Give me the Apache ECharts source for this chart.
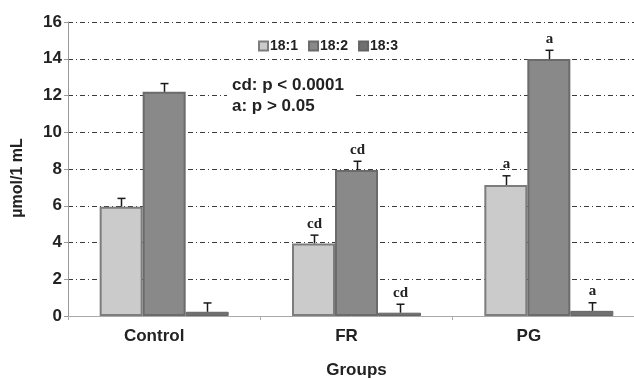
<!DOCTYPE html>
<html>
<head>
<meta charset="utf-8">
<script src="https://cdn.jsdelivr.net/npm/echarts@6/dist/echarts.min.js"></script>
<style>html,body{margin:0;padding:0;background:#fff}#c{width:634px;height:378px}</style>
</head>
<body>
<div id="c"></div>
<script>
var categories = ['Control', 'FR', 'PG'];
var seriesNames = ['18:1', '18:2', '18:3'];
var values181 = [5.95, 3.95, 7.13];
var values182 = [12.2, 7.95, 13.98];
var values183 = [0.23, 0.18, 0.28];
var err181 = [0.45, 0.45, 0.5];
var err182 = [0.45, 0.47, 0.48];
var err183 = [0.48, 0.46, 0.44];
var sigLabels181 = ['', 'cd', 'a'];
var sigLabels182 = ['', 'cd', 'a'];
var sigLabels183 = ['', 'cd', 'a'];
var yTicks = [0, 2, 4, 6, 8, 10, 12, 14, 16];
var noteLines = ['cd: p < 0.0001', 'a: p > 0.05'];

var labelShift = [20, 20, 40];
var vals = [values181, values182, values183];
var errs = [err181, err182, err183];
var sigs = [sigLabels181, sigLabels182, sigLabels183];
var fills = ['#cbcbcb', '#898989', '#707070'];
var borders = ['#7d7d7d', '#6b6b6b', '#656565'];
var BW = 43;
var font = '"Liberation Sans", Arial, sans-serif';

var catData = categories.map(function (name, i) {
  return { value: name, textStyle: { padding: [0, labelShift[i], 0, 0] } };
});

var errData = [];
for (var s = 0; s < 3; s++) {
  for (var c = 0; c < categories.length; c++) {
    errData.push([c, vals[s][c], vals[s][c] + errs[s][c], s, sigs[s][c]]);
  }
}

var series = [];
for (var s = 0; s < 3; s++) {
  series.push({
    name: seriesNames[s], type: 'bar', data: vals[s], barWidth: BW, barGap: '0%',
    itemStyle: { color: fills[s], borderColor: borders[s], borderWidth: s === 2 ? 1 : 2 },
    z: 2
  });
}
series.push({
  type: 'custom', data: errData, z: 5, silent: true,
  renderItem: function (params, api) {
    var c = api.value(0), v = api.value(1), t = api.value(2), s = api.value(3);
    var lab = errData[params.dataIndex][4];
    var p0 = api.coord([c, v]);
    var p1 = api.coord([c, t]);
    var x = Math.round(p0[0] + (s - 1) * BW) + 0.5;
    var children = [
      { type: 'line', shape: { x1: x, y1: p0[1], x2: x, y2: p1[1] }, style: { stroke: '#1a1a1a', lineWidth: 1.5 } },
      { type: 'line', shape: { x1: x - 4, y1: p1[1], x2: x + 4, y2: p1[1] }, style: { stroke: '#1a1a1a', lineWidth: 1.5 } }
    ];
    if (lab) {
      children.push({ type: 'text', style: { text: lab, x: x, y: p1[1] - 4, textAlign: 'center', textVerticalAlign: 'bottom',
        font: 'bold 15px "Liberation Serif", "Times New Roman", serif', fill: '#222' } });
    }
    return { type: 'group', children: children };
  }
});

var chart = echarts.init(document.getElementById('c'));
chart.setOption({
  animation: false,
  backgroundColor: '#fff',
  grid: { left: 68, top: 22, bottom: 62, right: -11, containLabel: false, outerBoundsMode: 'none' },
  legend: {
    data: seriesNames, left: 253, top: 34, itemWidth: 9, itemHeight: 9, itemGap: 10,
    icon: 'rect',
    textStyle: { fontFamily: font, fontWeight: 'bold', fontSize: 14, color: '#222', padding: [0, 0, 0, -3] }
  },
  xAxis: {
    type: 'category', data: catData,
    name: 'Groups', nameLocation: 'middle', nameGap: 46,
    nameTextStyle: { fontFamily: font, fontWeight: 'bold', fontSize: 17, color: '#222' },
    axisLine: { lineStyle: { color: '#aaaaaa', width: 1 } },
    axisTick: { show: true, length: 4, lineStyle: { color: '#aaaaaa' } },
    axisLabel: { fontFamily: font, fontWeight: 'bold', fontSize: 17, color: '#222', margin: 12 }
  },
  yAxis: {
    type: 'value', min: 0, max: 16, interval: 2,
    name: 'µmol/1 mL', nameLocation: 'middle', nameGap: 42, nameRotate: 90,
    nameTextStyle: { fontFamily: font, fontWeight: 'bold', fontSize: 16, color: '#222', padding: [0, 0, 0, -18] },
    axisLine: { show: true, lineStyle: { color: '#999999', width: 1 } },
    axisTick: { show: true, length: 4, lineStyle: { color: '#999999' } },
    axisLabel: { fontFamily: font, fontWeight: 'bold', fontSize: 17, color: '#222', margin: 6,
      formatter: function (v) { return yTicks.indexOf(v) >= 0 ? String(v) : ''; } },
    splitLine: { show: true, lineStyle: { color: '#3a3a3a', width: 1, type: [5, 3, 1, 3] } }
  },
  graphic: [
    { type: 'text', left: 227, top: 74, z: 51, style: { text: noteLines.join('\n'), font: 'bold 17px ' + font, fill: '#222', lineHeight: 21,
      backgroundColor: '#ffffff', padding: [1, 9, 2, 5] } }
  ],
  series: series
});
</script>
</body>
</html>
